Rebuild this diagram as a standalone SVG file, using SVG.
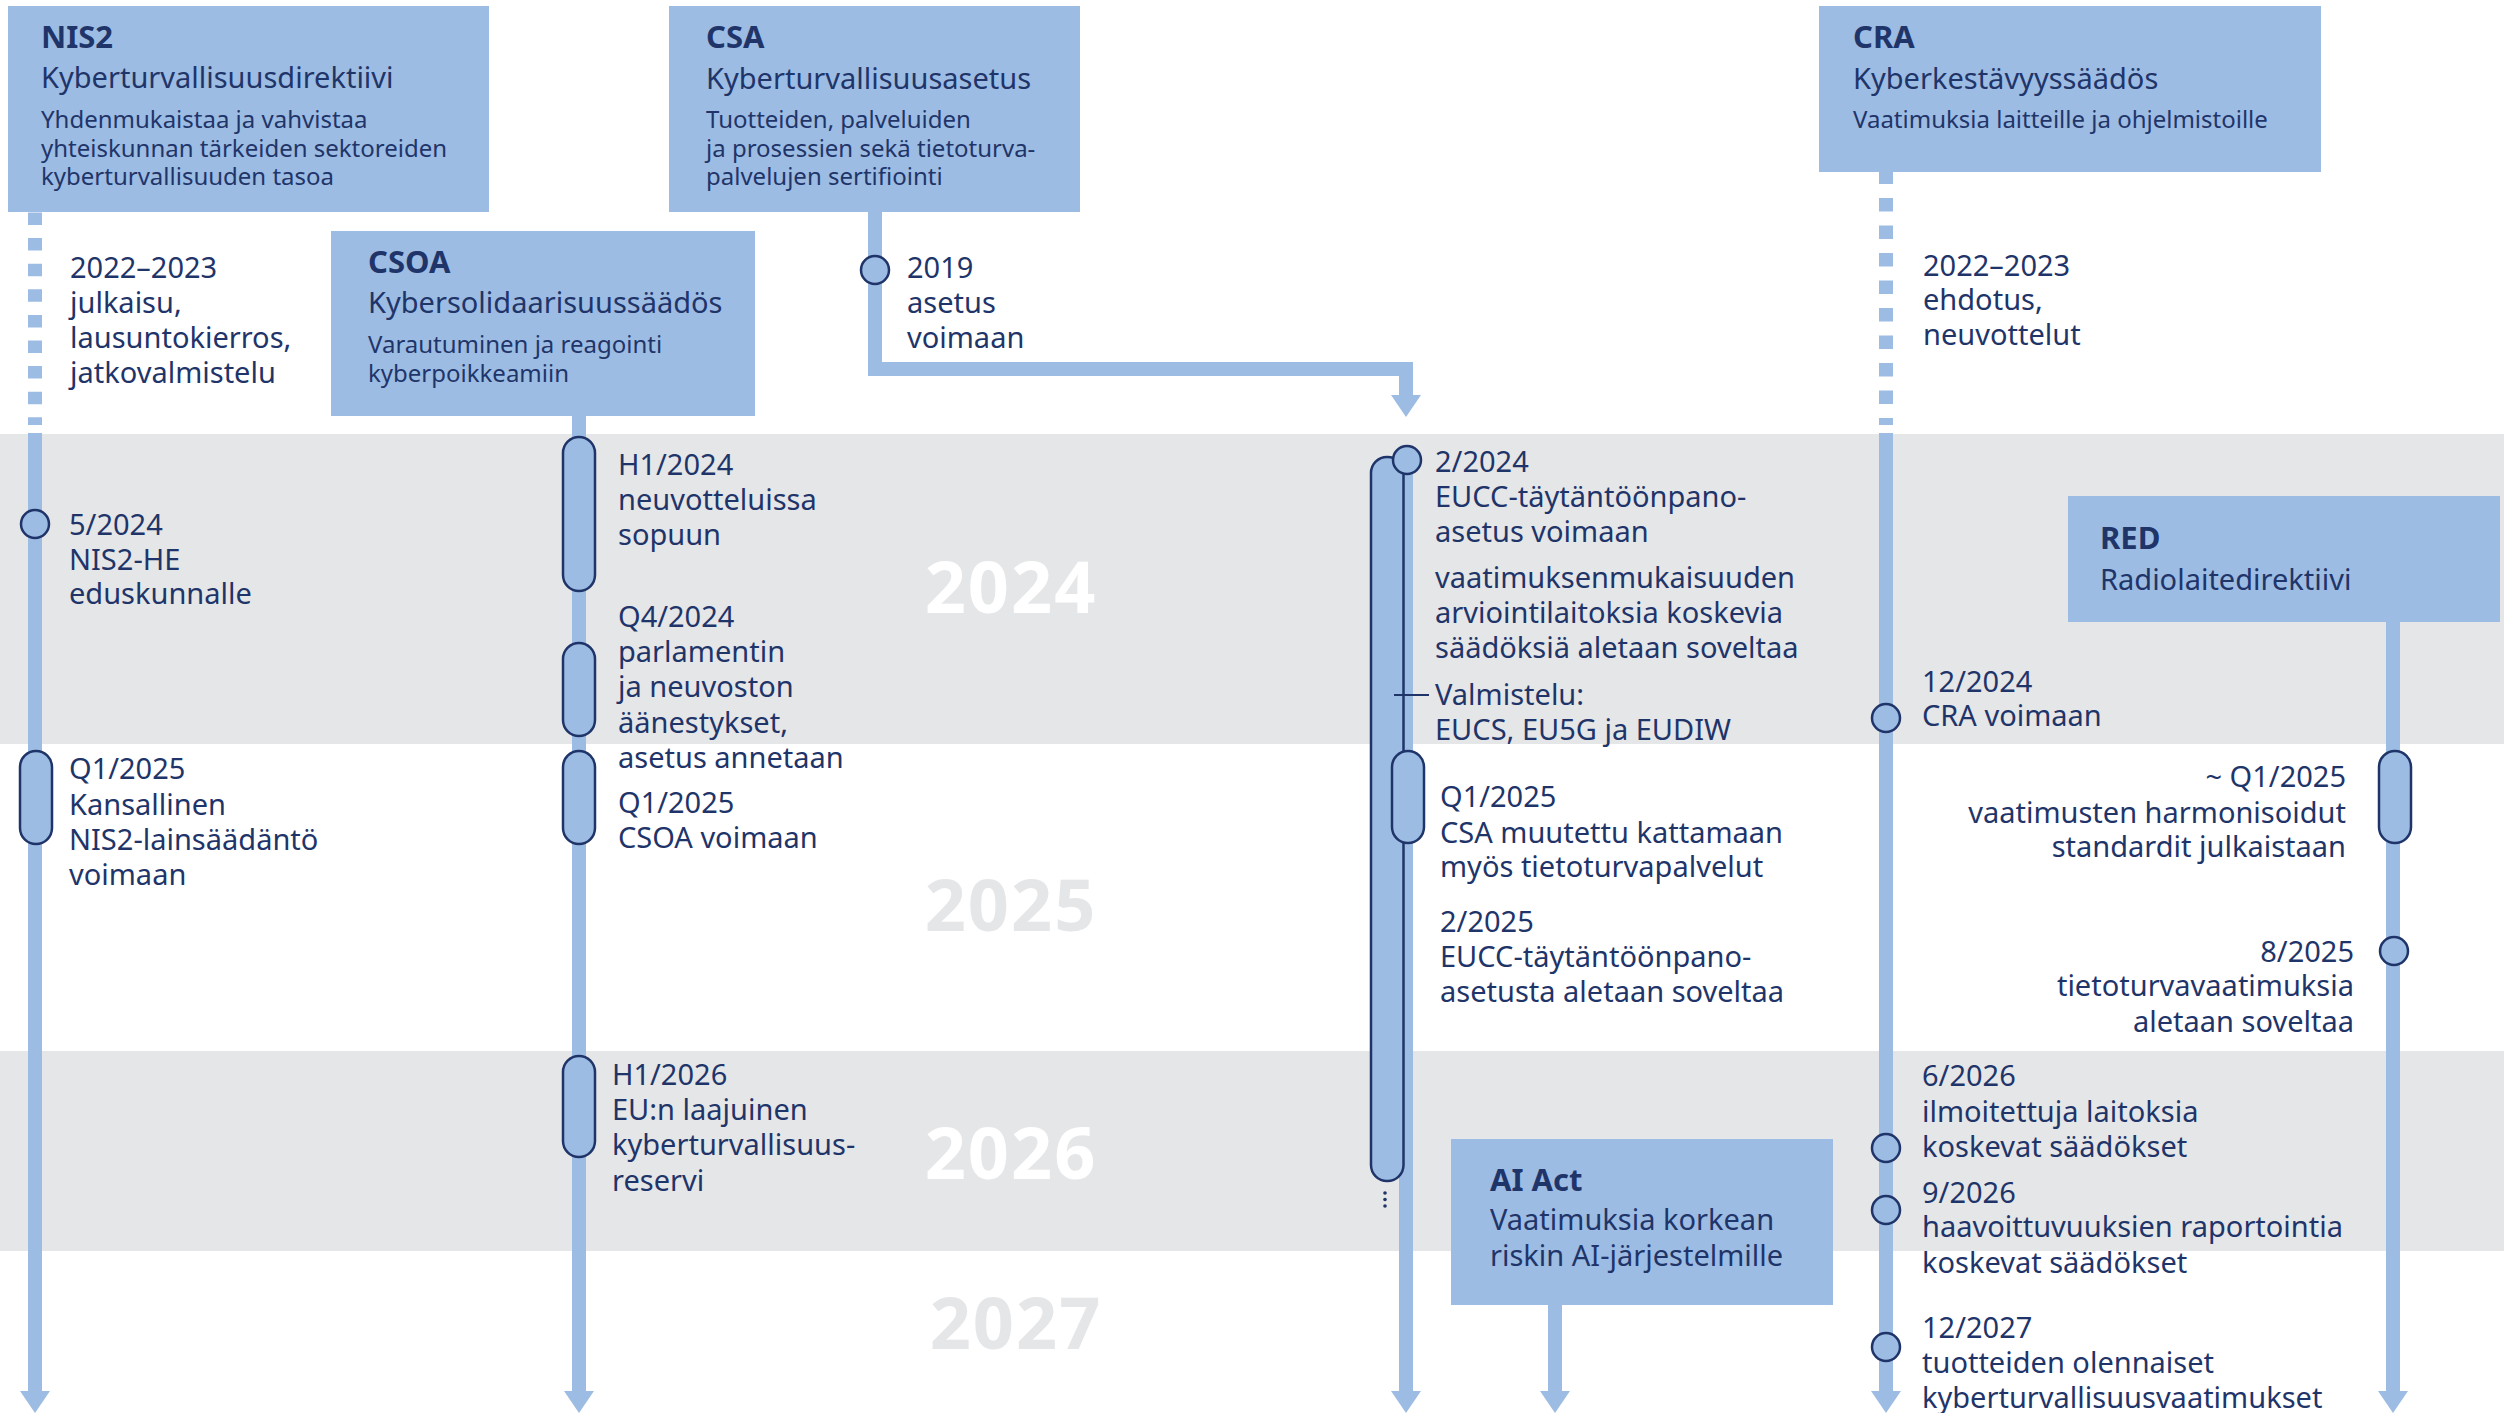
<svg xmlns="http://www.w3.org/2000/svg" width="2504" height="1413" viewBox="0 0 2504 1413">
<style>
text{font-family:"Noto Sans","Open Sans","Liberation Sans",sans-serif;fill:#1f3569}
.t{font-size:29px}
.d{font-size:24px}
.h{font-size:31px;font-weight:700}
.r{text-anchor:end}
.yr{font-size:72px;font-weight:700;text-anchor:middle;letter-spacing:2px}
.box{fill:#9dbce3}
.ln{fill:none;stroke:#9dbce3;stroke-width:14}
.dash{fill:none;stroke:#9dbce3;stroke-width:14}
.cap{fill:#9dbce3;stroke:#1f3569;stroke-width:2.5}
.dot{fill:#9dbce3;stroke:#1f3569;stroke-width:2.5}
.band{fill:#e5e6e8}
</style>
<defs>
<marker id="ah" markerUnits="userSpaceOnUse" markerWidth="22" markerHeight="30" viewBox="0 0 22 30" refX="0" refY="15" orient="auto">
<path d="M0,0 L22,15 L0,30 Z" fill="#9dbce3"/>
</marker>
</defs>
<rect width="2504" height="1413" fill="#ffffff"/>
<g id="bands">
<rect class="band" x="0" y="434" width="2504" height="310"/>
<rect class="band" x="0" y="1051" width="2504" height="200"/>
<text class="yr" x="1011" y="613" style="fill:#ffffff">2024</text>
<text class="yr" x="1011" y="931" style="fill:#e5e6e8">2025</text>
<text class="yr" x="1011" y="1179" style="fill:#ffffff">2026</text>
<text class="yr" x="1016" y="1349" style="fill:#e5e6e8">2027</text>
</g>
<g id="connectors">
<line class="dash" x1="35" y1="212.5" x2="35" y2="425" stroke-dasharray="12.5 13.1"/>
<line class="ln" x1="35" y1="433" x2="35" y2="1391" marker-end="url(#ah)"/>
<line class="ln" x1="579" y1="416" x2="579" y2="1391" marker-end="url(#ah)"/>
<path class="ln" d="M875,212 V369 H1406 V395" marker-end="url(#ah)"/>
<line class="ln" x1="1406" y1="460" x2="1406" y2="1391" marker-end="url(#ah)"/>
<line class="ln" x1="1555" y1="1305" x2="1555" y2="1391" marker-end="url(#ah)"/>
<line class="dash" x1="1886" y1="170.5" x2="1886" y2="425" stroke-dasharray="13.5 14"/>
<line class="ln" x1="1886" y1="433" x2="1886" y2="1391" marker-end="url(#ah)"/>
<line class="ln" x1="2393" y1="622" x2="2393" y2="1391" marker-end="url(#ah)"/>
</g>
<g id="nis2">
<rect class="box" x="8" y="6" width="481" height="206"/>
<text class="h" x="41" y="48">NIS2</text>
<text class="t" x="41" y="88">Kyberturvallisuusdirektiivi</text>
<text class="d" x="41" y="128">Yhdenmukaistaa ja vahvistaa</text>
<text class="d" x="41" y="157">yhteiskunnan tärkeiden sektoreiden</text>
<text class="d" x="41" y="185">kyberturvallisuuden tasoa</text>
</g>
<g id="csa">
<rect class="box" x="669" y="6" width="411" height="206"/>
<text class="h" x="706" y="48">CSA</text>
<text class="t" x="706" y="89">Kyberturvallisuusasetus</text>
<text class="d" x="706" y="128">Tuotteiden, palveluiden</text>
<text class="d" x="706" y="157">ja prosessien sekä tietoturva-</text>
<text class="d" x="706" y="185">palvelujen sertifiointi</text>
</g>
<g id="cra">
<rect class="box" x="1819" y="6" width="502" height="166"/>
<text class="h" x="1853" y="48">CRA</text>
<text class="t" x="1853" y="89">Kyberkestävyyssäädös</text>
<text class="d" x="1853" y="128">Vaatimuksia laitteille ja ohjelmistoille</text>
</g>
<g id="csoa">
<rect class="box" x="331" y="231" width="424" height="185"/>
<text class="h" x="368" y="273">CSOA</text>
<text class="t" x="368" y="313">Kybersolidaarisuussäädös</text>
<text class="d" x="368" y="353">Varautuminen ja reagointi</text>
<text class="d" x="368" y="382">kyberpoikkeamiin</text>
</g>
<g id="red">
<rect class="box" x="2068" y="496" width="432" height="126"/>
<text class="h" x="2100" y="549">RED</text>
<text class="t" x="2100" y="590">Radiolaitedirektiivi</text>
</g>
<g id="aiact">
<rect class="box" x="1451" y="1139" width="382" height="166"/>
<text class="h" x="1490" y="1191">AI Act</text>
<text class="t" x="1490" y="1230">Vaatimuksia korkean</text>
<text class="t" x="1490" y="1266">riskin AI-järjestelmille</text>
</g>
<g id="nis2-events">
<text class="t" x="70" y="278">2022–2023</text>
<text class="t" x="70" y="313">julkaisu,</text>
<text class="t" x="70" y="348">lausuntokierros,</text>
<text class="t" x="70" y="383">jatkovalmistelu</text>
<circle class="dot" cx="35" cy="524" r="14"/>
<text class="t" x="69" y="535">5/2024</text>
<text class="t" x="69" y="570">NIS2-HE</text>
<text class="t" x="69" y="604">eduskunnalle</text>
<rect class="cap" x="20" y="751" width="32" height="93" rx="16"/>
<text class="t" x="69" y="779">Q1/2025</text>
<text class="t" x="69" y="815">Kansallinen</text>
<text class="t" x="69" y="850">NIS2-lainsäädäntö</text>
<text class="t" x="69" y="885">voimaan</text>
</g>
<g id="csoa-events">
<rect class="cap" x="563" y="437" width="32" height="154" rx="16"/>
<text class="t" x="618" y="475">H1/2024</text>
<text class="t" x="618" y="510">neuvotteluissa</text>
<text class="t" x="618" y="545">sopuun</text>
<rect class="cap" x="563" y="643" width="32" height="93" rx="16"/>
<text class="t" x="618" y="627">Q4/2024</text>
<text class="t" x="618" y="662">parlamentin</text>
<text class="t" x="618" y="697">ja neuvoston</text>
<text class="t" x="618" y="733">äänestykset,</text>
<text class="t" x="618" y="768">asetus annetaan</text>
<rect class="cap" x="563" y="751" width="32" height="93" rx="16"/>
<text class="t" x="618" y="813">Q1/2025</text>
<text class="t" x="618" y="848">CSOA voimaan</text>
<rect class="cap" x="563" y="1056" width="32" height="101" rx="16"/>
<text class="t" x="612" y="1085">H1/2026</text>
<text class="t" x="612" y="1120">EU:n laajuinen</text>
<text class="t" x="612" y="1155">kyberturvallisuus-</text>
<text class="t" x="612" y="1191">reservi</text>
</g>
<g id="csa-events">
<circle class="dot" cx="875" cy="270" r="14"/>
<text class="t" x="907" y="278">2019</text>
<text class="t" x="907" y="313">asetus</text>
<text class="t" x="907" y="348">voimaan</text>
<rect class="cap" x="1371" y="457" width="32.5" height="724" rx="16"/>
<line x1="1394" y1="695" x2="1429" y2="695" stroke="#1f3569" stroke-width="2"/>
<circle cx="1385" cy="1193" r="1.8" fill="#1f3569"/>
<circle cx="1385" cy="1199.5" r="1.8" fill="#1f3569"/>
<circle cx="1385" cy="1206" r="1.8" fill="#1f3569"/>
<circle class="dot" cx="1407" cy="460" r="14"/>
<text class="t" x="1435" y="472">2/2024</text>
<text class="t" x="1435" y="507">EUCC-täytäntöönpano-</text>
<text class="t" x="1435" y="542">asetus voimaan</text>
<text class="t" x="1435" y="588">vaatimuksenmukaisuuden</text>
<text class="t" x="1435" y="623">arviointilaitoksia koskevia</text>
<text class="t" x="1435" y="658">säädöksiä aletaan soveltaa</text>
<text class="t" x="1435" y="705">Valmistelu:</text>
<text class="t" x="1435" y="740">EUCS, EU5G ja EUDIW</text>
<rect class="cap" x="1392" y="751" width="32" height="92" rx="16"/>
<text class="t" x="1440" y="807">Q1/2025</text>
<text class="t" x="1440" y="843">CSA muutettu kattamaan</text>
<text class="t" x="1440" y="877">myös tietoturvapalvelut</text>
<text class="t" x="1440" y="932">2/2025</text>
<text class="t" x="1440" y="967">EUCC-täytäntöönpano-</text>
<text class="t" x="1440" y="1002">asetusta aletaan soveltaa</text>
</g>
<g id="cra-events">
<text class="t" x="1923" y="276">2022–2023</text>
<text class="t" x="1923" y="310">ehdotus,</text>
<text class="t" x="1923" y="345">neuvottelut</text>
<circle class="dot" cx="1886" cy="718" r="14"/>
<text class="t" x="1922" y="692">12/2024</text>
<text class="t" x="1922" y="726">CRA voimaan</text>
<circle class="dot" cx="1886" cy="1148" r="14"/>
<text class="t" x="1922" y="1086">6/2026</text>
<text class="t" x="1922" y="1122">ilmoitettuja laitoksia</text>
<text class="t" x="1922" y="1157">koskevat säädökset</text>
<circle class="dot" cx="1886" cy="1210" r="14"/>
<text class="t" x="1922" y="1203">9/2026</text>
<text class="t" x="1922" y="1237">haavoittuvuuksien raportointia</text>
<text class="t" x="1922" y="1273">koskevat säädökset</text>
<circle class="dot" cx="1886" cy="1347" r="14"/>
<text class="t" x="1922" y="1338">12/2027</text>
<text class="t" x="1922" y="1373">tuotteiden olennaiset</text>
<text class="t" x="1922" y="1408">kyberturvallisuusvaatimukset</text>
</g>
<g id="red-events">
<rect class="cap" x="2379" y="751" width="32" height="92" rx="16"/>
<text class="t r" x="2346" y="787">~ Q1/2025</text>
<text class="t r" x="2346" y="823">vaatimusten harmonisoidut</text>
<text class="t r" x="2346" y="857">standardit julkaistaan</text>
<circle class="dot" cx="2394" cy="951" r="14"/>
<text class="t r" x="2354" y="962">8/2025</text>
<text class="t r" x="2354" y="996">tietoturvavaatimuksia</text>
<text class="t r" x="2354" y="1032">aletaan soveltaa</text>
</g>
</svg>
